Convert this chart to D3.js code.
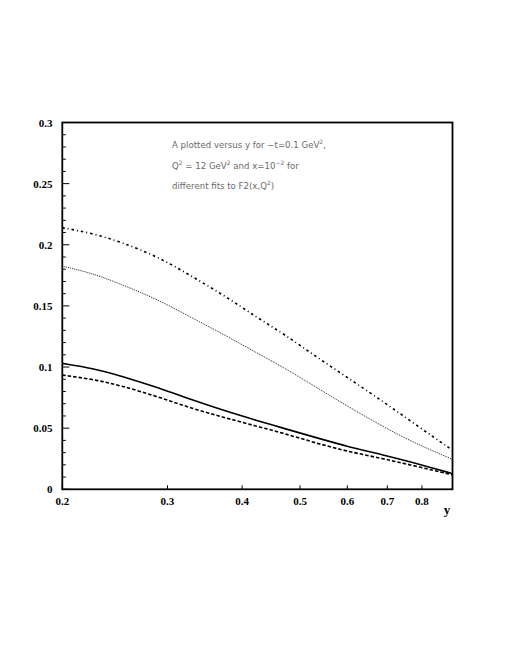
<!DOCTYPE html>
<html>
<head>
<meta charset="utf-8">
<script src="https://cdn.jsdelivr.net/npm/d3@7"></script>
<style>
  body { margin: 0; background: #fff; }
  .tick-label { font-family: "Liberation Serif", "Times New Roman", serif; font-weight: bold; font-size: 11px; }
  .note { font-family: "DejaVu Sans", sans-serif; font-size: 8.6px; fill: #6a6a6a; }
</style>
</head>
<body>
<div id="chart"></div>
<script>
// sample points on the y axis (log scale)
const yVals = [0.2, 0.225, 0.25, 0.29, 0.33, 0.375, 0.425, 0.47, 0.53, 0.6, 0.69, 0.78, 0.9];
// A for the four fits
const fitDashDot = [0.214, 0.2093, 0.2025, 0.190, 0.174, 0.158, 0.140, 0.127, 0.109, 0.0915, 0.0715, 0.053, 0.032];
const fitDotted  = [0.1825, 0.1766, 0.168, 0.155, 0.140, 0.126, 0.111, 0.0995, 0.084, 0.068, 0.051, 0.0375, 0.0245];
const fitSolid   = [0.103, 0.099, 0.093, 0.083, 0.073, 0.064, 0.056, 0.0498, 0.0425, 0.035, 0.028, 0.0215, 0.0128];
const fitDashed  = [0.0934, 0.090, 0.085, 0.0755, 0.066, 0.0585, 0.0513, 0.0458, 0.038, 0.031, 0.025, 0.019, 0.0118];

const xTicks = [0.2, 0.3, 0.4, 0.5, 0.6, 0.7, 0.8];
const yTicksMajor = [0, 0.05, 0.1, 0.15, 0.2, 0.25, 0.3];
const yTickLabels = ["0", "0.05", "0.1", "0.15", "0.2", "0.25", "0.3"];

let width = 505, height = 654;
let mLeft = 62.3, mRight = 452.5, mTop = 122.5, mBottom = 489.3;

let svg = d3.select("#chart").append("svg")
    .attr("width", width)
    .attr("height", height);

let x = d3.scaleLog().domain([0.2, 0.9]).range([mLeft, mRight]);
let y = d3.scaleLinear().domain([0, 0.3]).range([mBottom, mTop]);

// minor y ticks every 0.01
let minor = d3.range(0, 31).map(i => i / 100);
svg.append("g").selectAll("line")
    .data(minor)
    .enter().append("line")
    .attr("x1", mLeft).attr("x2", d => mLeft + (Math.round(d * 100) % 5 === 0 ? 7 : 3.5))
    .attr("y1", d => y(d)).attr("y2", d => y(d))
    .attr("stroke", "#000").attr("stroke-width", 1);

svg.append("g").selectAll("text")
    .data(yTicksMajor)
    .enter().append("text")
    .attr("class", "tick-label")
    .attr("x", 52.5)
    .attr("y", d => y(d) + 4)
    .attr("text-anchor", "end")
    .text((d, i) => yTickLabels[i]);

// x ticks
svg.append("g").selectAll("line")
    .data(xTicks)
    .enter().append("line")
    .attr("x1", d => x(d)).attr("x2", d => x(d))
    .attr("y1", mBottom).attr("y2", mBottom - 4)
    .attr("stroke", "#000").attr("stroke-width", 1);

svg.append("g").selectAll("text")
    .data(xTicks)
    .enter().append("text")
    .attr("class", "tick-label")
    .attr("x", d => x(d))
    .attr("y", 505)
    .attr("text-anchor", "middle")
    .text(d => d3.format(".1f")(d));

svg.append("text")
    .attr("class", "tick-label")
    .attr("x", 447).attr("y", 514)
    .attr("text-anchor", "middle")
    .style("font-size", "13px")
    .text("y");

// curves
let line = d3.line()
    .x((d, i) => x(yVals[i]))
    .y(d => y(d))
    .curve(d3.curveBasis);

let series = [
    { v: fitDashDot, dash: "2.5,3,1,3", w: 1.6, c: "#000" },
    { v: fitDotted, dash: "1,1", w: 1, c: "#222" },
    { v: fitSolid, dash: null, w: 1.6, c: "#000" },
    { v: fitDashed, dash: "3.5,2", w: 1.6, c: "#000" }
];

svg.append("g").selectAll("path")
    .data(series)
    .enter().append("path")
    .attr("d", d => line(d.v))
    .attr("fill", "none")
    .attr("stroke", d => d.c)
    .attr("stroke-width", d => d.w)
    .attr("stroke-dasharray", d => d.dash);

// frame
svg.append("rect")
    .attr("x", mLeft).attr("y", mTop)
    .attr("width", mRight - mLeft).attr("height", mBottom - mTop)
    .attr("fill", "none").attr("stroke", "#000").attr("stroke-width", 1.8);

// annotation
let note = svg.append("g").attr("class", "note");
let t1 = note.append("text").attr("x", 172).attr("y", 148);
t1.append("tspan").text("A plotted versus y for \u2212t=0.1 GeV");
t1.append("tspan").attr("dy", -4).style("font-size", "6px").text("2");
t1.append("tspan").attr("dy", 4).text(",");

let t2 = note.append("text").attr("x", 172).attr("y", 169);
t2.append("tspan").text("Q");
t2.append("tspan").attr("dy", -4).style("font-size", "6px").text("2");
t2.append("tspan").attr("dy", 4).text(" = 12 GeV");
t2.append("tspan").attr("dy", -4).style("font-size", "6px").text("2");
t2.append("tspan").attr("dy", 4).text(" and x=10");
t2.append("tspan").attr("dy", -4).style("font-size", "6px").text("\u22122");
t2.append("tspan").attr("dy", 4).text(" for");

let t3 = note.append("text").attr("x", 172).attr("y", 189);
t3.append("tspan").text("different fits to F2(x,Q");
t3.append("tspan").attr("dy", -4).style("font-size", "6px").text("2");
t3.append("tspan").attr("dy", 4).text(")");
</script>
</body>
</html>
